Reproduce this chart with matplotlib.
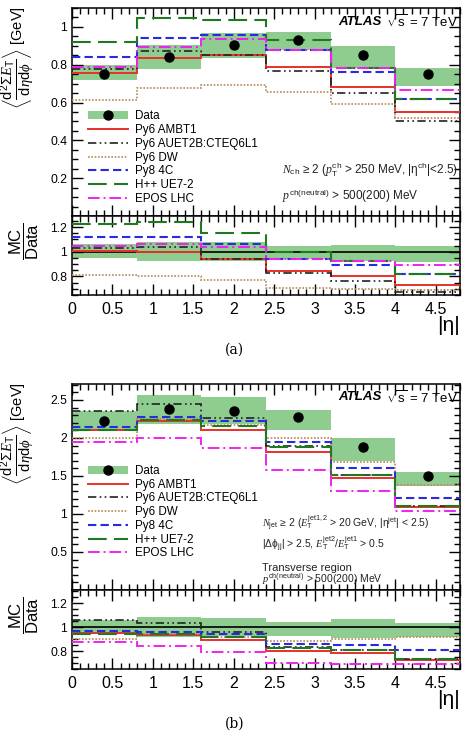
import matplotlib
matplotlib.use("Agg")
import matplotlib.pyplot as plt
from matplotlib.ticker import MultipleLocator, FuncFormatter
from matplotlib.patches import Patch
from matplotlib.lines import Line2D
import numpy as np

plt.rcParams['font.family'] = ['Liberation Sans', 'DejaVu Sans']
plt.rcParams['mathtext.fontset'] = 'custom'
plt.rcParams['mathtext.rm'] = 'Liberation Sans'
plt.rcParams['mathtext.it'] = 'Liberation Serif:italic'
plt.rcParams['mathtext.bf'] = 'Liberation Sans:bold'

# |eta| bin edges
edges = [0, 0.8, 1.6, 2.4, 3.2, 4.0, 4.8]

# (a) minimum bias
data_a = [0.752, 0.842, 0.902, 0.930, 0.849, 0.750]
band_a_hi = [0.797, 0.906, 0.970, 0.975, 0.898, 0.783]
band_a_lo = [0.717, 0.779, 0.836, 0.877, 0.783, 0.688]
ambt1_a = [0.756, 0.838, 0.850, 0.786, 0.680, 0.551]
auet2b_a = [0.775, 0.875, 0.852, 0.768, 0.648, 0.503]
dw_a = [0.613, 0.676, 0.693, 0.654, 0.592, 0.520]
py8_a = [0.842, 0.940, 0.956, 0.877, 0.761, 0.617]
hpp_a = [0.920, 1.045, 1.037, 0.930, 0.783, 0.617]
epos_a = [0.788, 0.893, 0.934, 0.877, 0.783, 0.667]

# (b) dijet, transverse region
data_b = [2.22, 2.377, 2.36, 2.27, 1.876, 1.50]
band_b_hi = [2.35, 2.57, 2.54, 2.37, 2.00, 1.555]
band_b_lo = [2.09, 2.19, 2.19, 2.11, 1.70, 1.37]
ambt1_b = [2.11, 2.227, 2.11, 1.82, 1.475, 1.09]
auet2b_b = [2.36, 2.45, 2.26, 1.89, 1.51, 1.105]
dw_b = [2.00, 2.25, 2.17, 2.00, 1.69, 1.375]
py8_b = [2.15, 2.28, 2.225, 1.945, 1.60, 1.215]
hpp_b = [2.10, 2.24, 2.16, 1.88, 1.51, 1.10]
epos_b = [1.95, 2.00, 1.865, 1.585, 1.30, 1.04]

labels = ['Py6 AMBT1', 'Py6 AUET2B:CTEQ6L1', 'Py6 DW', 'Py8 4C', 'H++ UE7-2', 'EPOS LHC']
styles = [
    dict(color='#e8302a', ls='-', lw=1.4),
    dict(color='#222222', ls=(0, (5, 2, 1, 2, 1, 2)), lw=1.2),
    dict(color='#b58a5a', ls=(0, (1, 1)), lw=1.2),
    dict(color='#2a2ae0', ls=(0, (4, 2)), lw=1.5),
    dict(color='#1f7a1f', ls=(0, (9, 3.5)), lw=1.5),
    dict(color='#ee22ee', ls=(0, (6, 2, 1, 2)), lw=1.4),
]
band_color = '#8fcc8f'

fig = plt.figure(figsize=(4.69, 7.37), dpi=100)
left, width = 72 / 469, 388 / 469


def fmt(v, p):
    if abs(v) < 1e-9:
        return ''
    return '%g' % round(v, 3)


def style_ax(ax, major, minor):
    ax.set_xlim(0, 4.8)
    ax.xaxis.set_major_locator(MultipleLocator(0.5))
    ax.xaxis.set_minor_locator(MultipleLocator(0.1))
    ax.yaxis.set_major_locator(MultipleLocator(major))
    ax.yaxis.set_minor_locator(MultipleLocator(minor))
    ax.yaxis.set_major_formatter(FuncFormatter(fmt))
    ax.xaxis.set_major_formatter(FuncFormatter(lambda v, p: '%g' % round(v, 3)))
    ax.tick_params(which='both', direction='in', top=True, right=True, labelsize=8.8)
    ax.tick_params(which='major', length=8, width=1)
    ax.tick_params(which='minor', length=4, width=1)
    for s in ax.spines.values():
        s.set_linewidth(1.1)


def panel(top_px, main_h, data, hi, lo, mcs, ylim, ymaj, ymin, rlim, leg_y, texts, cap):
    ax = fig.add_axes([left, 1 - (top_px + main_h) / 737, width, main_h / 737])
    rax = fig.add_axes([left, 1 - (top_px + main_h + 79) / 737, width, 79 / 737], sharex=ax)
    data = np.array(data)
    hi = np.array(hi)
    lo = np.array(lo)
    centers = 0.5 * (np.array(edges[:-1]) + np.array(edges[1:]))

    ax.stairs(hi, edges, baseline=lo, fill=True, color=band_color, lw=0, zorder=1)
    rax.stairs(hi / data, edges, baseline=lo / data, fill=True, color=band_color, lw=0, zorder=1)
    rax.axhline(1, color='k', lw=1.2, zorder=3)
    for mc, st in zip(mcs, styles):
        mc = np.array(mc)
        ax.stairs(mc, edges, baseline=None, zorder=4, **st)
        rax.stairs(mc / data, edges, baseline=None, zorder=4, **st)
    ax.plot(centers, data, 'o', color='k', ms=6.5, zorder=6)

    ax.set_ylim(*ylim)
    rax.set_ylim(*rlim)
    style_ax(ax, ymaj, ymin)
    style_ax(rax, 0.2, 0.05)
    ax.tick_params(labelbottom=False)
    rax.tick_params(axis='x', labelsize=11.5, pad=5)

    ax.set_ylabel(r'$\left\langle\dfrac{\mathrm{d}^2\Sigma E_{\mathrm{T}}}{\mathrm{d}\eta\mathrm{d}\phi}\right\rangle$ [GeV]',
                  fontsize=10.5)
    ax.yaxis.set_label_coords(-0.09, 0.76)
    rax.set_ylabel(r'$\dfrac{\mathrm{MC}}{\mathrm{Data}}$', fontsize=12)
    rax.yaxis.set_label_coords(-0.08, 0.68)
    rax.text(1.0, -0.27, '|η|', transform=rax.transAxes, ha='right', va='top', fontsize=15)

    handles = [(Patch(facecolor=band_color, edgecolor='none'),
                Line2D([], [], marker='o', color='k', ls='none', ms=6.5))]
    handles += [Line2D([], [], **st) for st in styles]
    ax.legend(handles, ['Data'] + labels, loc='upper left', bbox_to_anchor=(0.028, leg_y),
              frameon=False, fontsize=8.4, handlelength=3.5, labelspacing=0.15,
              handletextpad=0.6, borderaxespad=0)

    ax.text(0.686, 0.935, 'ATLAS', transform=ax.transAxes, fontsize=9.5,
            fontweight='bold', fontstyle='italic', va='center')
    ax.text(0.808, 0.935, r'$\sqrt{\mathrm{s}}$ = 7 TeV', transform=ax.transAxes,
            fontsize=9.5, va='center')
    for x, y, t, fs in texts:
        ax.text(x, y, t, transform=ax.transAxes, fontsize=fs, va='center', color='#222222')

    fig.text(0.5, 1 - (top_px + main_h + 79 + 55) / 737, cap, ha='center', va='center',
             fontsize=10, family='DejaVu Serif')


panel(8, 208, data_a, band_a_hi, band_a_lo,
      [ambt1_a, auet2b_a, dw_a, py8_a, hpp_a, epos_a],
      (0, 1.1), 0.2, 0.05, (0.65, 1.29), 0.53,
      [(0.54, 0.22, r'$N_{\rm ch}$ ≥ 2 ($p_{\rm T}^{\rm ch}$ > 250 MeV, |$\mathrm{\eta}^{\rm ch}$|<2.5)', 8.5),
       (0.54, 0.095, r'$p^{\rm ch(neutral)}$ > 500(200) MeV', 8.5)],
      '(a)')

panel(384, 206, data_b, band_b_hi, band_b_lo,
      [ambt1_b, auet2b_b, dw_b, py8_b, hpp_b, epos_b],
      (0, 2.71), 0.5, 0.1, (0.65, 1.31), 0.63,
      [(0.49, 0.325, r'$N_{\rm jet}$ ≥ 2 ($E_{\rm T}^{\rm jet1,2}$ > 20 GeV, |$\mathrm{\eta}^{\rm jet}$| < 2.5)', 7.5),
       (0.49, 0.22, r'|$\Delta\mathrm{\phi}_{\rm jj}$| > 2.5, $E_{\rm T}^{\rm jet2}/E_{\rm T}^{\rm jet1}$ > 0.5', 7.5),
       (0.49, 0.105, 'Transverse region', 8),
       (0.49, 0.05, r'$p^{\rm ch(neutral)}$ > 500(200) MeV', 7.5)],
      '(b)')

fig.savefig('out.png', dpi=100)
